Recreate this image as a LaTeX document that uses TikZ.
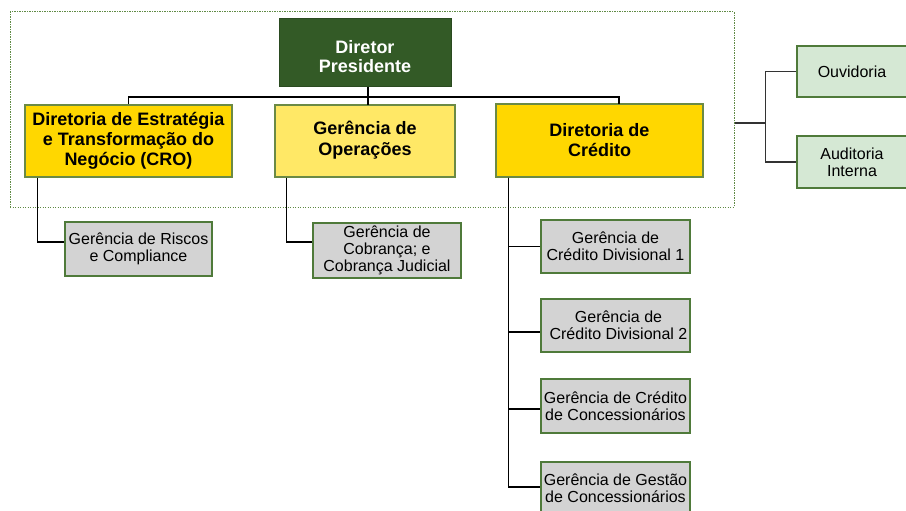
\documentclass[tikz,border=0pt]{standalone}
\usepackage{fontspec}
\setmainfont{Liberation Sans}
\definecolor{presfill}{HTML}{335A26}
\definecolor{presdraw}{HTML}{2A4A20}
\definecolor{goldfill}{HTML}{FFD700}
\definecolor{lightyel}{HTML}{FFE866}
\definecolor{boxborder}{HTML}{6B8A45}
\definecolor{greyfill}{HTML}{D3D3D3}
\definecolor{greenfill}{HTML}{D5E8D4}
\definecolor{subborder}{HTML}{4F7A3A}
\definecolor{framecol}{HTML}{5F8A45}
\definecolor{sidecol}{HTML}{333333}
\begin{document}
\begin{tikzpicture}[x=1pt,y=-1pt,
  frame/.style={draw=framecol, line width=1pt, dash pattern=on 1.3pt off 1.2pt, rectangle, minimum width=724pt, minimum height=195pt, inner sep=0pt},
  presbox/.style={draw=presdraw, fill=presfill, line width=1pt, text=white, align=center, inner sep=0pt, minimum width=172pt, minimum height=68pt, font=\fontsize{18}{19.5}\selectfont\bfseries},
  dirbox/.style={draw=boxborder, line width=1.3pt, align=center, inner sep=0pt, minimum height=72pt, font=\fontsize{18}{20}\selectfont\bfseries},
  subbox/.style={draw=subborder, fill=greyfill, line width=1.2pt, align=center, inner sep=0pt, minimum width=148pt, minimum height=54pt, font=\fontsize{16}{17}\selectfont},
  sidebox/.style={draw=subborder, fill=greenfill, line width=1.2pt, align=center, inner sep=0pt, minimum width=110pt, font=\fontsize{16}{17}\selectfont},
  conn/.style={draw=black, line width=1.3pt},
  sideconn/.style={draw=sidecol, line width=1.3pt}
]
\useasboundingbox (0,0) rectangle (906,511);

\node[frame] (frame) at (372,109.5) {};

\node[presbox] (pres) at (365,53) {\raisebox{-6pt}[\height][\depth]{\begin{tabular}{@{}c@{}}Diretor\\Presidente\end{tabular}}};
\node[dirbox, fill=goldfill, minimum width=207pt] (cro) at (128.5,141) {Diretoria de Estratégia\\e Transformação do\\Negócio (CRO)};
\node[dirbox, fill=lightyel, minimum width=180pt] (ops) at (365,141) {\begin{tabular}{@{}c@{}}Gerência de\\Operações\end{tabular}};
\node[dirbox, fill=goldfill, minimum width=207pt, minimum height=73pt] (cred) at (599.5,140.5) {Diretoria de\\Crédito};

\node[sidebox, minimum height=51pt] (ouv) at (852,71.5) {Ouvidoria};
\node[sidebox, minimum height=52pt] (aud) at (852,162) {Auditoria\\Interna};

\node[subbox, minimum width=147pt] (risk) at (138.5,249) {Gerência de Riscos\\e Compliance};
\node[subbox, minimum height=55pt] (cob) at (387,250.5) {Gerência de\\Cobrança; e\\Cobrança Judicial};
\node[subbox, minimum width=149pt, minimum height=53pt] (div1) at (615.5,246.5) {Gerência de\\Crédito Divisional 1};
\node[subbox, minimum width=149pt, minimum height=53pt] (div2) at (615.5,325.5) {\hspace{6pt}Gerência de\\\hspace{6pt}Crédito Divisional 2};
\node[subbox, minimum width=149pt] (conc) at (615.5,406) {Gerência de Crédito\\de Concessionários};
\node[subbox, minimum width=149pt, minimum height=53pt] (gest) at (615.5,488.5) {Gerência de Gestão\\de Concessionários};

% top connectors
\coordinate (bus) at (368,97);
\coordinate (opsin) at (368,105);
\coordinate (credin) at (619,104);
\draw[conn] (pres.south -| opsin) -- (opsin);
\draw[conn] (cro.north) |- (bus) -| (credin);

% down connectors
\draw[conn] ([xshift=13pt]cro.south west) |- ([yshift=7pt]risk.west);
\draw[conn] ([xshift=12pt]ops.south west) |- ([yshift=8.5pt]cob.west);
\draw[conn] ([xshift=13pt]cred.south west) |- (div1.west);
\draw[conn] ([xshift=13pt]cred.south west) |- ([yshift=-6.5pt]div2.west);
\draw[conn] ([xshift=13pt]cred.south west) |- ([yshift=-3pt]conc.west);
\draw[conn] ([xshift=13pt]cred.south west) |- ([yshift=1.5pt]gest.west);

% side connectors
\draw[sideconn] ([yshift=-13.5pt]frame.east) -- ++(31,0) coordinate (sj);
\draw[sideconn] (sj) |- (ouv.west);
\draw[sideconn] (sj) |- (aud.west);
\end{tikzpicture}
\end{document}
